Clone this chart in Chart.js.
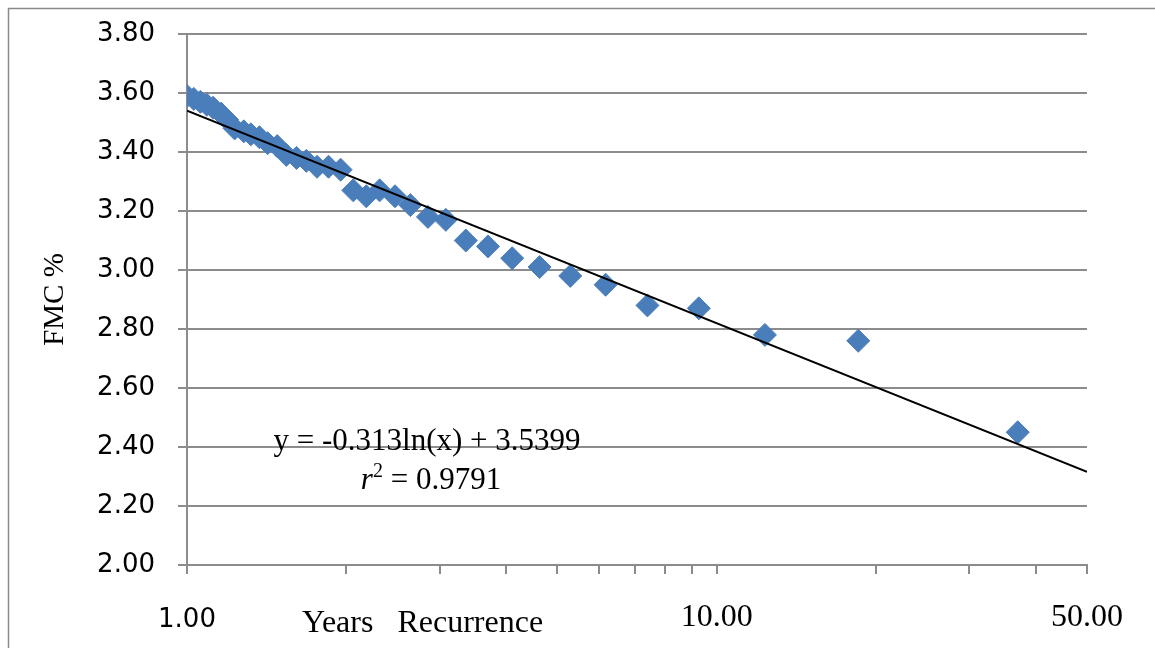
<!DOCTYPE html>
<html>
<head>
<meta charset="utf-8">
<script src="https://cdn.jsdelivr.net/npm/chart.js@4.4.1/dist/chart.umd.min.js"></script>
<style>
  html, body { margin: 0; padding: 0; background: #ffffff; }
  #wrap { width: 1155px; height: 648px; position: relative; }
</style>
</head>
<body>
<div id="wrap"><canvas id="c" width="1155" height="648"></canvas></div>
<script>
// ---- data ----
const recurrenceYears = [37, 18.5, 12.33, 9.25, 7.4, 6.17, 5.29, 4.63, 4.11, 3.7, 3.36, 3.08, 2.85, 2.64, 2.47, 2.31, 2.18, 2.06, 1.95, 1.85, 1.76, 1.68, 1.61, 1.54, 1.48, 1.42, 1.37, 1.32, 1.28, 1.23, 1.19, 1.16, 1.12, 1.09, 1.06, 1.03, 1.00];
const fmcPercent = [2.45, 2.76, 2.78, 2.87, 2.88, 2.95, 2.98, 3.01, 3.04, 3.08, 3.10, 3.17, 3.18, 3.22, 3.25, 3.27, 3.25, 3.27, 3.34, 3.35, 3.35, 3.37, 3.38, 3.39, 3.42, 3.43, 3.45, 3.46, 3.47, 3.48, 3.51, 3.53, 3.55, 3.56, 3.57, 3.58, 3.59];
const trendSlope = -0.313;
const trendIntercept = 3.5399;
const trendRange = [1, 50];
const yTickValues = [2.0, 2.2, 2.4, 2.6, 2.8, 3.0, 3.2, 3.4, 3.6, 3.8];
const xTickValues = [1, 2, 3, 4, 5, 6, 7, 8, 9, 10, 20, 30, 40, 50];
const xLabelValues = [1, 10, 50];
const xLabelTexts = ['1.00', '10.00', '50.00'];
const yAxisTitle = 'FMC %';
const xAxisTitle = 'Years   Recurrence';
const equationText = 'y = -0.313ln(x) + 3.5399';
const r2Value = '0.9791';

// ---- derived ----
const scatterData = recurrenceYears.map((x, i) => ({ x: x, y: fmcPercent[i] }));
const trendData = trendRange.map(x => ({ x: x, y: trendSlope * Math.log(x) + trendIntercept }));

const SERIF = '"Liberation Serif", "Times New Roman", serif';
const SANS = '"DejaVu Sans", sans-serif';
const GRID = '#8c8c8c';

const decorPlugin = {
  id: 'decor',
  afterDraw(chart) {
    const ctx = chart.ctx;
    const ca = chart.chartArea;
    ctx.save();
    // outer frame
    ctx.strokeStyle = '#8a8a8a';
    ctx.lineWidth = 1.5;
    ctx.strokeRect(8.5, 8.5, 1200, 700);
    // x axis title
    ctx.fillStyle = '#000';
    ctx.font = '32px ' + SERIF;
    ctx.textAlign = 'left';
    ctx.textBaseline = 'alphabetic';
    ctx.fillText(xAxisTitle, ca.left + 115, 632);
    // equation
    ctx.font = '31px ' + SERIF;
    ctx.textAlign = 'center';
    ctx.fillText(equationText, ca.left + 240, 450);
    // r^2 line
    ctx.textAlign = 'left';
    const rest = ' = ' + r2Value;
    ctx.font = 'italic 31px ' + SERIF;
    const wr = ctx.measureText('r').width;
    ctx.font = '20px ' + SERIF;
    const w2 = ctx.measureText('2').width;
    ctx.font = '31px ' + SERIF;
    const wRest = ctx.measureText(rest).width;
    let x0 = ca.left + 244 - (wr + w2 + wRest) / 2;
    ctx.font = 'italic 31px ' + SERIF;
    ctx.fillText('r', x0, 489);
    ctx.font = '20px ' + SERIF;
    ctx.fillText('2', x0 + wr, 477);
    ctx.font = '31px ' + SERIF;
    ctx.fillText(rest, x0 + wr + w2, 489);
    ctx.restore();
  }
};

new Chart(document.getElementById('c'), {
  data: {
    datasets: [
      {
        type: 'line',
        data: trendData,
        borderColor: '#000000',
        borderWidth: 2,
        pointRadius: 0,
        fill: false,
        tension: 0,
        order: 0
      },
      {
        type: 'scatter',
        data: scatterData,
        pointStyle: 'rectRot',
        pointRadius: 11.5,
        pointHoverRadius: 11.5,
        backgroundColor: '#4A7EBB',
        borderColor: '#4A7EBB',
        borderWidth: 1,
        order: 1
      }
    ]
  },
  options: {
    responsive: false,
    animation: false,
    events: [],
    layout: { padding: { left: 20, top: 34, right: 68, bottom: 0 } },
    plugins: { legend: { display: false }, tooltip: { enabled: false } },
    scales: {
      x: {
        type: 'logarithmic',
        min: trendRange[0],
        max: trendRange[1],
        afterBuildTicks: (scale) => { scale.ticks = xTickValues.map(v => ({ value: v })); },
        afterFit: (scale) => { scale.height = 83; scale.paddingLeft = 0; scale.paddingRight = 0; },
        ticks: {
          autoSkip: false,
          maxRotation: 0,
          minRotation: 0,
          padding: 24,
          color: '#000',
          font: (ctx) => (ctx.tick && ctx.tick.value === 1)
            ? { family: SANS, size: 26, lineHeight: 1.7 }
            : { family: SERIF, size: 32, lineHeight: 1.2 },
          callback: (value) => {
            const i = xLabelValues.indexOf(value);
            return i >= 0 ? xLabelTexts[i] : '';
          }
        },
        grid: {
          drawOnChartArea: false,
          drawTicks: true,
          tickLength: 9,
          color: GRID,
          lineWidth: 2
        },
        border: { display: true, color: GRID, width: 2 }
      },
      y: {
        type: 'linear',
        min: 2.0,
        max: 3.8,
        afterBuildTicks: (scale) => { scale.ticks = yTickValues.map(v => ({ value: v })); },
        afterFit: (scale) => { scale.width = 167; scale.paddingTop = 0; scale.paddingBottom = 0; },
        ticks: {
          padding: 23,
          color: '#000',
          font: { family: SANS, size: 26 },
          callback: (v) => Number(v).toFixed(2)
        },
        grid: {
          drawTicks: true,
          tickLength: 9,
          color: GRID,
          lineWidth: 2
        },
        border: { display: true, color: GRID, width: 2 },
        title: {
          display: true,
          text: yAxisTitle,
          color: '#000',
          font: { family: SERIF, size: 29 },
          padding: { top: 18, bottom: 0 }
        }
      }
    }
  },
  plugins: [decorPlugin]
});
</script>
</body>
</html>
